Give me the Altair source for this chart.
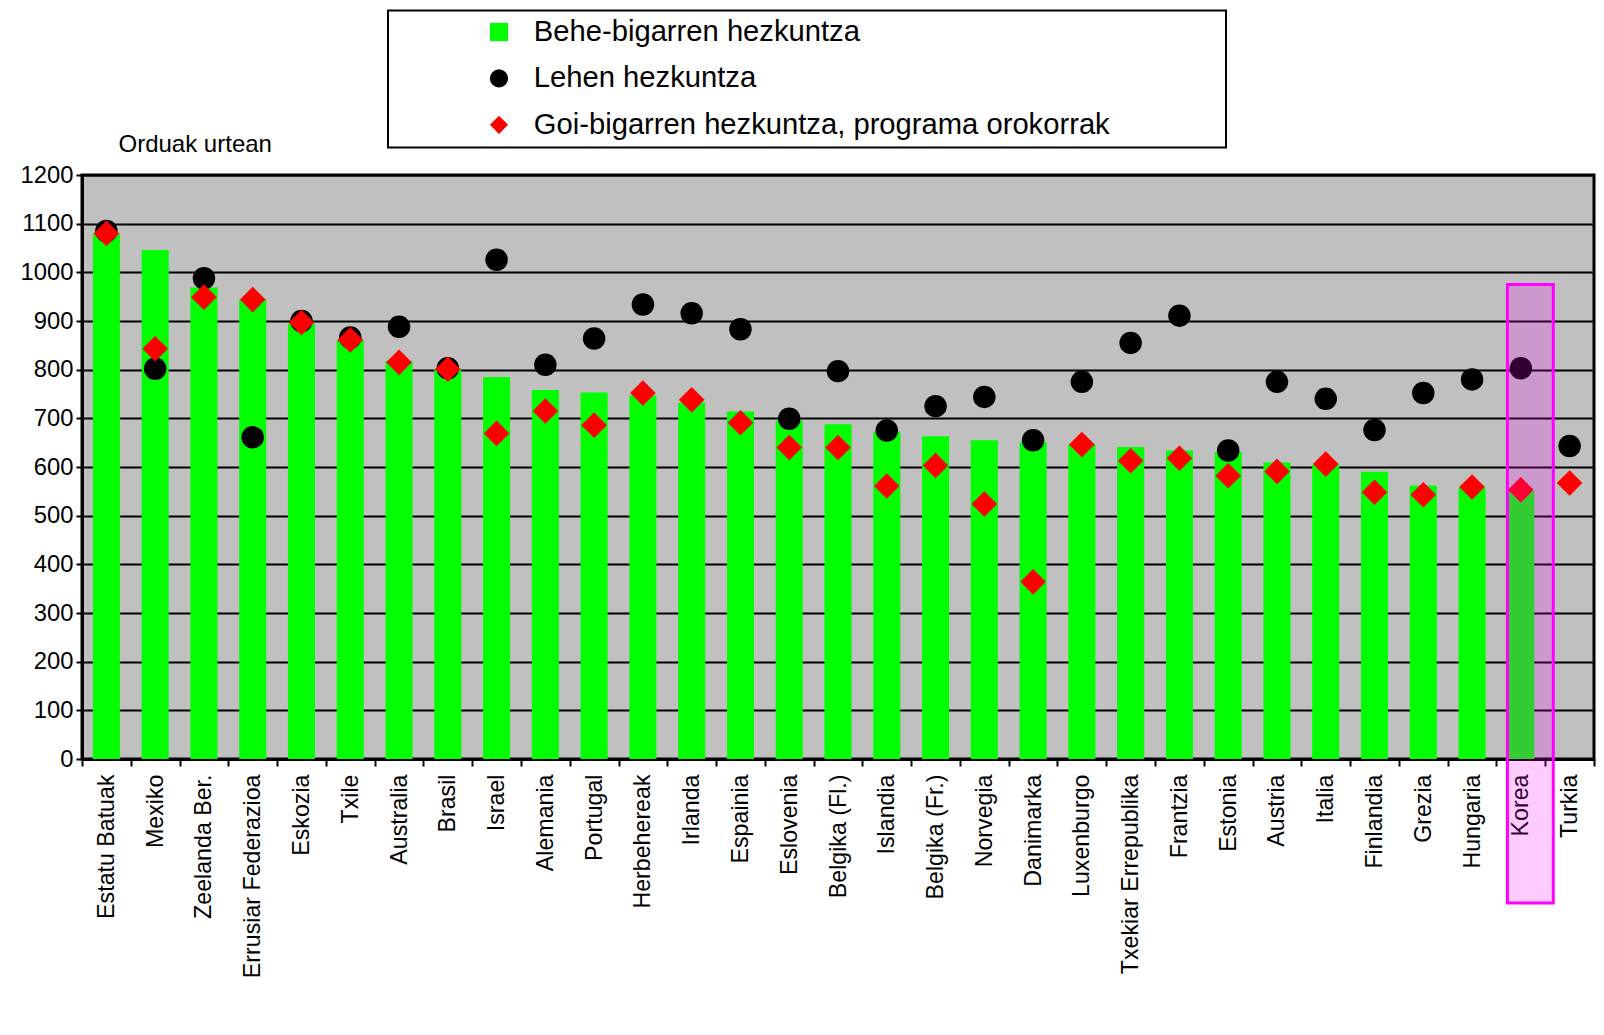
import altair as alt
import pandas as pd

countries = ["Estatu Batuak", "Mexiko", "Zeelanda Ber.", "Errusiar Federazioa", "Eskozia",
             "Txile", "Australia", "Brasil", "Israel", "Alemania", "Portugal", "Herbehereak",
             "Irlanda", "Espainia", "Eslovenia", "Belgika (Fl.)", "Islandia", "Belgika (Fr.)",
             "Norvegia", "Danimarka", "Luxenburgo", "Txekiar Errepublika", "Frantzia", "Estonia",
             "Austria", "Italia", "Finlandia", "Grezia", "Hungaria", "Korea", "Turkia"]

# Behe-bigarren hezkuntza (bars)
behe = [1080, 1046, 969, 944, 895, 861, 818, 800, 785, 758, 753, 747, 732, 714, 695, 688,
        673, 663, 655, 651, 646, 641, 634, 631, 609, 605, 590, 562, 558, 550, None]
# Lehen hezkuntza (circles)
lehen = [1085, 802, 988, 661, 900, 866, 888, 803, 1026, 810, 864, 934, 916, 883, 699, 797,
         675, 725, 744, 655, 775, 855, 911, 634, 775, 740, 676, 752, 780, 803, 643]
# Goi-bigarren hezkuntza, programa orokorrak (diamonds)
goi = [1080, 843, 949, 944, 897, 861, 815, 801, 669, 715, 686, 752, 738, 691, 640, 640,
       561, 603, 524, 364, 646, 613, 618, 582, 591, 606, 548, 543, 559, 553, 567]

series_names = ["Behe-bigarren hezkuntza", "Lehen hezkuntza",
                "Goi-bigarren hezkuntza, programa orokorrak"]
series_colors = ["#00ff00", "#000000", "#ff0000"]
series_shapes = ["square", "circle", "diamond"]
y_ticks = [0, 100, 200, 300, 400, 500, 600, 700, 800, 900, 1000, 1100, 1200]

highlight_country = ["Korea"]
highlight_top = [975]
highlight_bottom = [-296]

n = len(countries)
bar_df = pd.DataFrame({"country": countries, "value": behe,
                       "series": [series_names[0]] * n}).dropna()
circ_df = pd.DataFrame({"country": countries, "value": lehen,
                        "series": [series_names[1]] * n})
diam_df = pd.DataFrame({"country": countries, "value": goi,
                        "series": [series_names[2]] * n})
hl_df = pd.DataFrame({"country": highlight_country, "top": highlight_top,
                      "bottom": highlight_bottom})

FONT = "Liberation Sans"

xenc = alt.X("country:N", sort=countries,
             scale=alt.Scale(paddingInner=0, paddingOuter=0),
             axis=alt.Axis(title=None, labelAngle=-90, labelFontSize=23.2, labelFont=FONT,
                           labelColor="black", labelLimit=400, labelPadding=8,
                           tickBand="extent", tickSize=7, tickColor="black", tickWidth=2,
                           domainColor="black", domainWidth=3, grid=False))
yscale = alt.Scale(domain=[0, 1200], nice=False)
yaxis = alt.Axis(values=y_ticks, format="d", title="Orduak urtean", titleAngle=0,
                 titleAlign="left", titleBaseline="alphabetic", titleX=36, titleY=-23.5,
                 titleFontSize=24, titleFontWeight="normal", titleFont=FONT,
                 titleColor="black", labelFontSize=23.8, labelFont=FONT, labelColor="black",
                 labelPadding=3, tickColor="black", tickSize=6, tickWidth=2,
                 domainColor="black", domainWidth=3, gridColor="black", gridWidth=2.2,
                 gridOpacity=1)

legend = alt.Legend(title=" ", titleOrient="right", titlePadding=109, titleFontSize=29.2,
                    orient="none", legendX=306, legendY=-164.6, direction="vertical",
                    fillColor="white", strokeColor="black", padding=7,
                    symbolOffset=89.4, labelOffset=20.2, labelFontSize=29.2, labelFont=FONT,
                    labelColor="black", labelLimit=900, rowPadding=16.4, symbolSize=330,
                    symbolStrokeWidth=0)

color = alt.Color("series:N", scale=alt.Scale(domain=series_names, range=series_colors),
                  legend=legend)
shape = alt.Shape("series:N", scale=alt.Scale(domain=series_names, range=series_shapes),
                  legend=legend)
yenc = alt.Y("value:Q", scale=yscale, axis=yaxis)

bars = alt.Chart(bar_df).mark_bar(width=alt.RelativeBandSize(0.555)).encode(
    x=xenc, y=yenc, color=color,
)

circles = alt.Chart(circ_df).mark_point(filled=True, size=506, opacity=1,
                                        strokeWidth=0).encode(
    x=xenc, y=yenc, color=color, shape=shape,
)

diamonds = alt.Chart(diam_df).mark_point(filled=True, size=655, opacity=1,
                                         strokeWidth=0).encode(
    x=xenc, y=yenc, color=color, shape=shape,
)

overlay = alt.Chart(hl_df).mark_bar(width=alt.RelativeBandSize(0.94), fill="#ff00ff",
                                    fillOpacity=0.2, stroke="#ff00ff", strokeWidth=3,
                                    xOffset=9.5, clip=False).encode(
    x=xenc,
    y=alt.Y("top:Q", scale=yscale, axis=yaxis),
    y2="bottom:Q",
)

chart = alt.layer(bars, circles, diamonds, overlay).properties(
    width=1512, height=584,
    autosize=alt.AutoSizeParams(type="none"),
    padding={"left": 74, "top": 167, "right": 2, "bottom": 250},
    background="white",
).configure_view(
    fill="#c0c0c0", stroke="black", strokeWidth=3
).configure_legend(
    strokeWidth=2
)

chart.save("out.html", embed_options={"renderer": "svg", "actions": False})
